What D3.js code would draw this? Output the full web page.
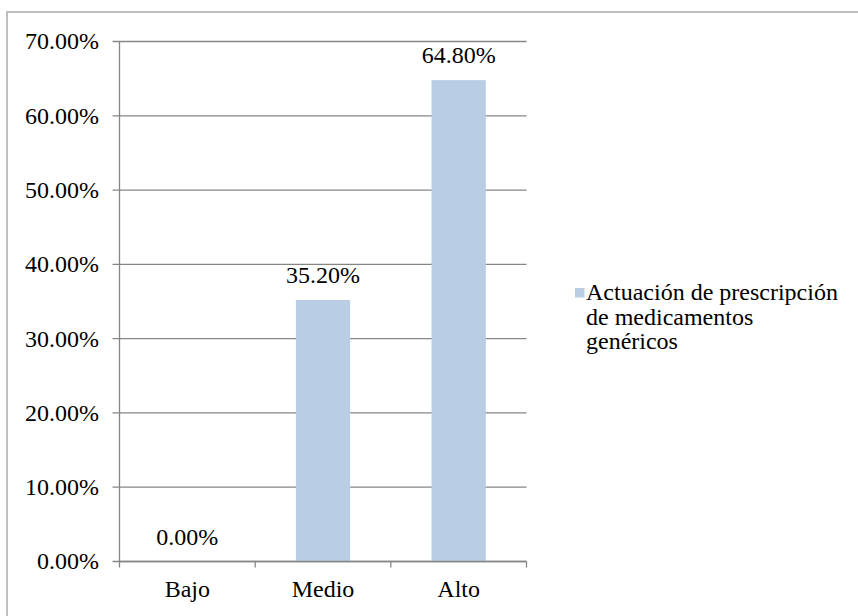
<!DOCTYPE html>
<html>
<head>
<meta charset="utf-8">
<script src="https://cdn.jsdelivr.net/npm/d3@7"></script>
<style>
  body { margin: 0; background: #fff; }
  svg text { font-family: "Liberation Serif", "Times New Roman", serif; }
</style>
</head>
<body>
<svg id="chart" width="858" height="616"></svg>
<script>
const categories = ["Bajo", "Medio", "Alto"];
const values = [0, 35.2, 64.8];
const yTicks = [0, 10, 20, 30, 40, 50, 60, 70];
const seriesName = ["Actuación de prescripción", "de medicamentos", "genéricos"];

const fontSize = 24;
const barColor = "#b9cde5";
const gridColor = "#868686";

function draw() {
    const svg = d3.select("#chart");

    // helper so every label gets the same look
    function label(sel) {
        return sel.style("font-size", fontSize + "px")
                  .attr("fill", "#000");
    }

    // outer chart border (only top and left are visible)
    svg.append("rect")
       .attr("x", 7).attr("y", 12)
       .attr("width", 900).attr("height", 700)
       .attr("fill", "none")
       .attr("stroke", "#bfbfbf")
       .attr("stroke-width", 2);

    const plot = {left: 119.5, right: 526.5, top: 41.5, bottom: 561.5};

    const x = d3.scaleBand()
                .domain(categories)
                .range([plot.left, plot.right]);

    const y = d3.scaleLinear()
                .domain([0, 70])
                .range([plot.bottom, plot.top]);

    // gridlines
    svg.append("g")
       .selectAll("line")
       .data(yTicks)
       .join("line")
         .attr("x1", plot.left - 7)
         .attr("x2", plot.right)
         .attr("y1", d => y(d))
         .attr("y2", d => y(d))
         .attr("stroke", gridColor)
         .attr("stroke-width", 1.3);

    // y tick labels
    svg.append("g")
       .selectAll("text")
       .data(yTicks)
       .join("text")
         .call(label)
         .attr("x", 99)
         .attr("y", d => y(d))
         .attr("dy", "0.33em")
         .attr("text-anchor", "end")
         .text(d => d.toFixed(2) + "%");

    // bars
    const barW = x.bandwidth() * 0.4;
    svg.append("g")
       .selectAll("rect")
       .data(values)
       .join("rect")
         .attr("x", (d, i) => x(categories[i]) + (x.bandwidth() - barW) / 2)
         .attr("y", d => y(d))
         .attr("width", barW)
         .attr("height", d => y(0) - y(d))
         .attr("fill", barColor);

    // data labels
    svg.append("g")
       .selectAll("text")
       .data(values)
       .join("text")
         .call(label)
         .attr("x", (d, i) => x(categories[i]) + x.bandwidth() / 2)
         .attr("y", d => y(d) - 17)
         .attr("text-anchor", "middle")
         .text(d => d.toFixed(2) + "%");

    // y axis line
    svg.append("line")
       .attr("x1", plot.left).attr("x2", plot.left)
       .attr("y1", plot.top).attr("y2", plot.bottom)
       .attr("stroke", gridColor)
       .attr("stroke-width", 1.3);

    // x axis line and ticks
    svg.append("line")
       .attr("x1", plot.left).attr("x2", plot.right)
       .attr("y1", plot.bottom).attr("y2", plot.bottom)
       .attr("stroke", gridColor)
       .attr("stroke-width", 1.3);

    const edges = categories.map(c => x(c)).concat([plot.right]);
    svg.append("g")
       .selectAll("line")
       .data(edges)
       .join("line")
         .attr("x1", d => d).attr("x2", d => d)
         .attr("y1", plot.bottom).attr("y2", plot.bottom + 6)
         .attr("stroke", gridColor)
         .attr("stroke-width", 1.3);

    // x labels
    svg.append("g")
       .selectAll("text")
       .data(categories)
       .join("text")
         .call(label)
         .attr("x", d => x(d) + x.bandwidth() / 2)
         .attr("y", 597)
         .attr("text-anchor", "middle")
         .text(d => d);

    // legend
    const legend = svg.append("g");
    legend.append("rect")
          .attr("x", 575).attr("y", 288)
          .attr("width", 9.5).attr("height", 9.5)
          .attr("fill", barColor);

    legend.selectAll("text")
          .data(seriesName)
          .join("text")
            .call(label)
            .attr("x", 586)
            .attr("y", (d, i) => 300 + i * 24.5)
            .text(d => d);
}

draw();
</script>
</body>
</html>
